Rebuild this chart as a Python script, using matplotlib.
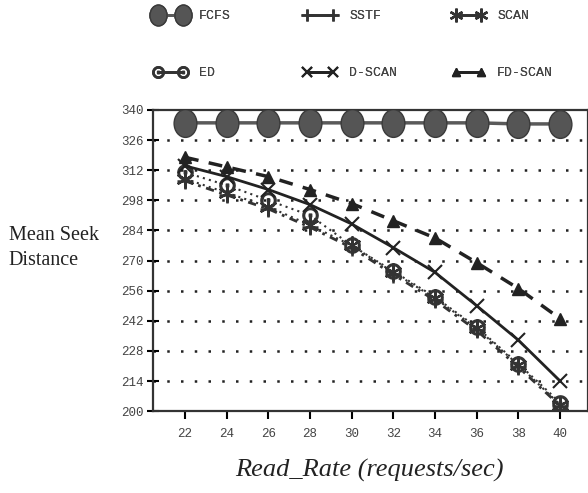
import matplotlib
matplotlib.use("Agg")
import matplotlib.pyplot as plt
from matplotlib.path import Path
from matplotlib.transforms import Affine2D
import numpy as np

read_rate = [22, 24, 26, 28, 30, 32, 34, 36, 38, 40]

fcfs = [334, 334, 334, 334, 334, 334, 334, 334, 333.5, 333.5]
sstf = [307, 300.5, 294, 285.5, 276, 263.5, 251.5, 237.5, 220.5, 202.5]
scan = [308, 301.5, 295, 286.5, 277, 264.5, 252.5, 238.5, 221.5, 203]
ed = [311, 305, 298, 291, 277, 265, 253, 239, 222, 204]
dscan = [314, 309, 303, 296, 287, 276, 264.5, 249, 233, 214]
fdscan = [318, 313.5, 309, 303, 296.5, 288.5, 280.5, 269, 257, 243]

yticks = [200, 214, 228, 242, 256, 270, 284, 298, 312, 326, 340]
xticks = [22, 24, 26, 28, 30, 32, 34, 36, 38, 40]

mono = "Liberation Mono"
serif = "Liberation Serif"

# tall ellipse for the FCFS marks
ellipse = Path.unit_circle().transformed(Affine2D().scale(0.82, 1.0))

fig = plt.figure(figsize=(5.88, 4.93), dpi=100)
ax = fig.add_axes([0.260, 0.166, 0.740, 0.611])

# dotted horizontal grid
for y in yticks[1:-1]:
    ax.axhline(y, color="#222222", linestyle=(0, (1, 4.5)), linewidth=1.8, zorder=0.5)

ax.plot(read_rate, fcfs, color="#5a5a5a", linewidth=2.5, marker=ellipse,
        markersize=20, markerfacecolor="#555555", markeredgecolor="#3a3a3a",
        label="FCFS", zorder=3)
ax.plot(read_rate, sstf, color="#333333", linewidth=2, linestyle=(0, (3, 2, 1, 2)),
        marker="+", markersize=12, markeredgewidth=1.8, label="SSTF", zorder=3)
ax.plot(read_rate, scan, color="#333333", linewidth=1.5, linestyle=(0, (1, 2)),
        marker=(6, 2, 0), markersize=13, markeredgewidth=1.6, label="SCAN", zorder=3)
ax.plot(read_rate, ed, color="#333333", linewidth=1.5, linestyle=(0, (1, 2)),
        marker="$\\odot$", markersize=11, label="ED", zorder=3)
ax.plot(read_rate, dscan, color="#222222", linewidth=2, linestyle="-",
        marker="x", markersize=10, markeredgewidth=1.5, label="D-SCAN", zorder=3)
ax.plot(read_rate, fdscan, color="#222222", linewidth=2.5, linestyle=(0, (4, 3)),
        marker="^", markersize=8, label="FD-SCAN", zorder=3)

ax.set_xlim(20.46, 41.34)
ax.set_ylim(200, 340)
ax.set_xticks(xticks)
ax.set_yticks(yticks)
ax.tick_params(axis="y", direction="inout", length=9, width=1.5,
               labelsize=9, labelcolor="#444444", pad=2)
ax.tick_params(axis="x", direction="out", length=6, width=1.5,
               labelsize=9, labelcolor="#444444", pad=6)
for lab in ax.get_xticklabels() + ax.get_yticklabels():
    lab.set_fontfamily(mono)
for sp in ax.spines.values():
    sp.set_linewidth(1.6)
    sp.set_color("#333333")

fig.text(0.015, 0.497, "Mean Seek\nDistance", fontfamily=serif, fontsize=14.5,
         ha="left", va="center", linespacing=1.45, color="#222222")
fig.text(0.629, 0.045, "Read_Rate (requests/sec)", fontfamily=serif,
         fontstyle="italic", fontsize=19, ha="center", va="center", color="#222222")

# legend: three columns, two rows (row-major order like the original)
handles, labels = ax.get_legend_handles_labels()
lookup = dict(zip(labels, handles))
columns = [("FCFS", "ED"), ("SSTF", "D-SCAN"), ("SCAN", "FD-SCAN")]
col_x = [0.25, 0.505, 0.757]
for names, x0 in zip(columns, col_x):
    leg = fig.legend([lookup[n] for n in names], list(names),
                     loc="upper left", bbox_to_anchor=(x0, 0.993),
                     frameon=False, numpoints=2, handlelength=2.5,
                     handletextpad=0.95, labelspacing=3.4, borderpad=0,
                     markerscale=0.75, prop={"family": mono, "size": 9.5})
    for line in leg.get_lines():
        line.set_linestyle("-")
        line.set_linewidth(2)
    for t in leg.get_texts():
        t.set_color("#444444")
    fig.add_artist(leg)

fig.savefig("out.png", dpi=100)
